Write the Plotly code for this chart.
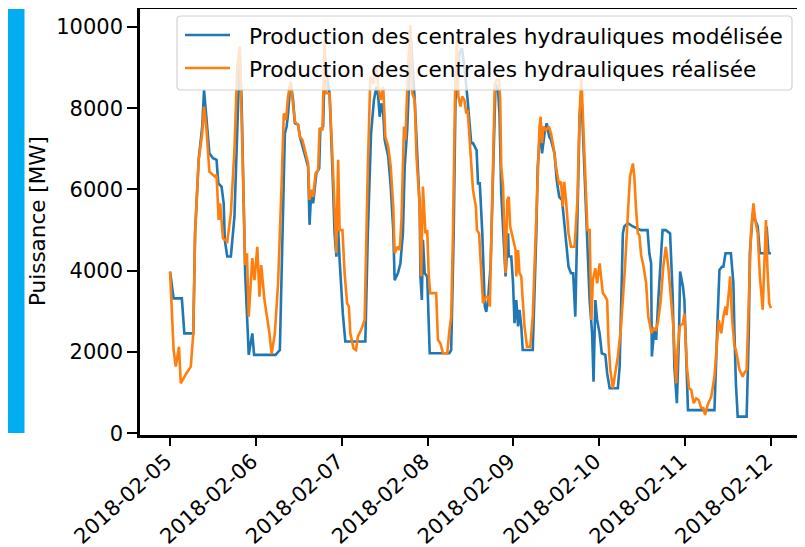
import pandas as pd
import plotly.graph_objects as go

# ---- data ----
start = "2018-02-05 00:00"

model_hours = [0, 1, 3.3, 4, 6.5, 7, 8, 9, 9.5, 10, 11, 12, 13, 13.5, 14.4, 15, 15.3, 16, 17, 18, 18.5, 19.5, 20, 21, 22, 23, 23.5,
               29.5, 30.7, 31.2, 32.1, 32.6, 33, 33.7, 34.4, 34.9, 35.8, 36.3, 36.7, 37.7, 38.6, 39, 39.5, 40, 40.9, 41.7, 42, 42.8,
               43.3, 44.2, 44.6, 45.4, 46, 46.5, 47, 47.4, 48.3, 49, 54.6, 55.3, 56.2, 57, 57.7, 58.2, 58.6, 59.1, 59.6, 60, 61,
               61.7, 62.4, 62.8, 63.7, 64.4, 65.1, 65.6, 66.3, 67, 67.4, 68.4, 69.3, 69.8, 70, 70.4, 70.7, 71.2, 71.9, 72.6, 78.1,
               78.6, 79.3, 79.8, 80.3, 80.9, 81.6, 82.3, 83.2, 84.2, 84.7, 85.7, 86.1, 86.6, 87.3, 88, 88.4, 88.9, 89.6, 90.3, 91,
               91.7, 92.1, 92.6, 93.1, 93.8, 94.5, 94.7, 95.4, 95.9, 96.3, 96.8, 97.3, 97.7, 98.2, 98.6, 101.4, 101.9, 102.4,
               102.8, 103.5, 104, 104.7, 105.3, 106, 106.5, 107.5, 108.1, 108.8, 109.6, 110, 110.7, 111.4, 112.1, 112.7, 113.3,
               113.9, 114.5, 115, 115.7, 116.4, 116.8, 117.3, 118, 118.4, 118.9, 119.4, 120.1, 120.7, 121.7, 122.2, 122.9, 125.2,
               125.7, 126.1, 126.6, 127, 128, 129.4, 131.7, 133.5, 134, 134.5, 134.7, 135.4, 135.9, 136.5, 137.1, 137.7, 138.6,
               139.8, 140.5, 141, 141.7, 142.3, 142.6, 143.4, 143.8, 144.3, 144.8, 152.2, 152.7, 153.1, 153.6, 154.3, 154.7,
               155.3, 156.8, 157.5, 157.8, 158.2, 158.7, 161.2, 161.8, 162.1, 162.9, 163.6, 164.3, 164.9, 166.4, 166.8, 167.3, 168]
model_values = [3980, 3320, 3320, 2460, 2460, 4920, 6730, 7550, 8450, 7960, 6890, 6770, 6730, 6150, 6070, 5660, 4760, 4350, 4350,
                5330, 6730, 9350, 8200, 3940, 1930, 2460, 1930,
                1930, 2050, 4100, 7380, 7550, 7870, 8650, 8200, 7630, 7590, 7300, 7180, 6890, 6560, 5130, 5990, 5660, 6400, 6520,
                7460, 7550, 9270, 8570, 8370, 6480, 4920, 4350, 5000, 4270, 2950, 2260, 2260, 4920, 7380, 8200, 8530, 8290, 7790,
                8120, 7870, 7220, 6810, 6070, 5000, 3770, 3940, 4180, 4920, 6560, 7460, 9020, 9680, 8200, 6560, 5580, 3860, 3280,
                4760, 3940, 3860, 1970, 1970, 2050, 4920, 8200, 8780, 9350, 9470, 9020, 8200, 7140, 7140, 6970, 6150, 6150, 4920,
                3120, 2990, 3280, 4100, 6560, 8610, 8450, 7870, 5910, 4920, 3860, 4920, 4350, 4350, 3690, 2710, 3280, 2630, 3040,
                2630, 2050, 2050, 3280, 4920, 6560, 7550, 6890, 7380, 7630, 7300, 7220, 6890, 6230, 5820, 5740, 5330, 4760, 4100,
                3940, 3940, 2870, 5740, 7790, 8370, 6730, 5090, 4350, 3280, 2460, 1270, 3280, 2790, 2460, 1970, 1930, 1480, 1110,
                1110, 1640, 3280, 4920, 5090, 5170, 5090, 5000, 5000, 4430, 4180, 1890, 2580, 2300, 3280, 4100, 5000, 5000, 4920,
                3450, 1640, 740, 2460, 3980, 3610, 3280, 1640, 570, 570, 1640, 2870, 4020, 4100, 4100, 4430, 4430, 3690, 2460, 1230,
                410, 410, 2460, 4430, 5410, 5250, 5090, 4430, 4430, 5090, 4430, 4430]

real_hours = [0, 1, 1.6, 2.5, 3, 3.7, 4.6, 5.8, 6.5, 7, 8, 9, 9.5, 10.2, 11, 12.5, 13, 13.6, 14, 14.8, 16, 17, 18, 18.8, 19.5, 20,
              21, 21.5, 22, 23, 23.6, 24.4, 25, 25.5, 26.4, 27.8, 28.4, 29.3, 30.2, 31.2, 31.8, 32.4, 33, 33.7, 34.4, 34.9, 35.8,
              36.3, 37, 37.7, 38.6, 39, 39.5, 40, 40.7, 41.4, 41.8, 42.6, 43.2, 43.7, 44.6, 45.6, 46, 46.5, 47, 47.4, 48.2, 48.8,
              49.5, 50, 50.4, 51.3, 52, 52.5, 53.4, 54.4, 55.3, 56, 56.8, 57.7, 58.2, 58.9, 59.6, 60.2, 61, 61.7, 62.4, 62.8, 63.6,
              64.2, 64.7, 65.4, 65.8, 66.5, 67.2, 67.7, 68.4, 68.9, 69.8, 70.2, 70.7, 71.4, 71.9, 72.3, 72.7, 74.4, 74.9, 75.6,
              76.3, 77.5, 78.1, 78.6, 79.1, 79.7, 80.2, 80.6, 81.2, 81.7, 82.3, 82.8, 83.2, 83.7, 84.3, 84.7, 85.5, 85.8, 86.4, 87,
              87.5, 88.3, 88.9, 89.4, 90.1, 90.8, 91.4, 92, 92.3, 92.6, 93.1, 93.8, 94.3, 94.7, 95.1, 95.9, 96.6, 96.8, 97.3,
              97.7, 98.2, 98.6, 99.1, 99.8, 100.7, 101.4, 102.4, 102.8, 103.3, 103.6, 104, 104.4, 105.1, 105.9, 106.5, 107.2,
              107.9, 108.7, 109.3, 109.8, 110.2, 110.7, 111.4, 112.1, 113.1, 113.9, 114.5, 115, 115.4, 116.1, 116.7, 117.3,
              117.8, 118.2, 118.9, 119.4, 120.1, 120.6, 121, 121.7, 122.2, 122.6, 123.1, 123.8, 124.3, 125.2, 126.1, 126.6,
              127.2, 128, 128.6, 129.4, 129.8, 130.3, 130.8, 131.2, 131.7, 132.4, 133.1, 133.7, 134.2, 134.6, 135.2, 135.9,
              136.5, 137.2, 137.9, 138.6, 139.3, 140, 140.7, 141.5, 141.9, 142.5, 143.4, 143.8, 144.5, 145.1, 145.7, 146.4,
              147.1, 147.8, 148.5, 149.1, 149.6, 150.3, 151.3, 152.2, 152.7, 153.4, 154.1, 154.7, 155.3, 155.6, 156.2, 156.6,
              157.1, 157.8, 158.2, 159.2, 160.1, 160.5, 161.2, 162, 162.4, 163.1, 163.6, 164.3, 164.9, 165.7, 166.1, 166.6, 167,
              167.5, 168]
real_values = [3980, 2050, 1640, 2130, 1230, 1350, 1480, 1640, 2460, 4920, 6730, 7380, 8040, 7460, 6440, 6320, 6360, 5250, 5660,
               4800, 4720, 5410, 6970, 9020, 9520, 7790, 4140, 4430, 2870, 4310, 3770, 4590, 3360, 4140, 3280, 2460, 1950, 2460,
               3690, 6150, 7870, 7710, 8290, 8650, 8040, 7670, 7590, 7300, 7220, 6970, 6640, 5740, 5990, 5820, 6400, 6480, 7510,
               7460, 9680, 8370, 8370, 6400, 5410, 4430, 6730, 5000, 5000, 3940, 3200, 3120, 2460, 2090, 2050, 2380, 2540, 2790,
               6560, 8780, 8610, 9020, 8530, 8200, 8530, 7300, 7050, 6560, 5580, 4430, 4590, 4510, 5250, 7550, 7220, 8940, 10050,
               8370, 8200, 6810, 5580, 3860, 6070, 4920, 5000, 3940, 3450, 3450, 2300, 2210, 1970, 1970, 2540, 2870, 4920, 8450,
               9680, 8290, 8040, 8290, 8200, 7870, 7960, 7380, 6560, 5990, 5580, 5000, 4920, 3940, 3200, 3360, 3360, 3120, 6150,
               8610, 8700, 8700, 8200, 6560, 6070, 3940, 5740, 5820, 5090, 4760, 4510, 3860, 4510, 3940, 3860, 3280, 2630, 2130,
               2130, 2870, 5330, 6730, 7550, 7790, 7140, 7550, 7460, 7550, 7380, 7050, 6560, 6150, 6190, 5580, 6190, 5740, 4920,
               4590, 4590, 5740, 7870, 8740, 7790, 6560, 5000, 5000, 2790, 3770, 4060, 3690, 4180, 3770, 3450, 3360, 3280, 2210,
               1560, 1110, 1390, 1890, 2630, 3280, 4100, 5410, 6320, 6640, 6320, 5500, 4920, 4880, 4390, 4100, 3690, 2870, 2630,
               2460, 2580, 2540, 2790, 3280, 4100, 4590, 4100, 3280, 2630, 1230, 2050, 2630, 2710, 2950, 1640, 1110, 1070, 740,
               860, 820, 620, 620, 450, 700, 900, 1390, 2050, 2790, 2460, 2870, 3120, 2910, 3450, 3860, 2870, 2130, 2050, 1560,
               1390, 1480, 1560, 3690, 4920, 5660, 5250, 4920, 3860, 3040, 4100, 5250, 4100, 3200, 3080]

tick_dates = ["2018-02-05", "2018-02-06", "2018-02-07", "2018-02-08", "2018-02-09", "2018-02-10", "2018-02-11", "2018-02-12"]
y_ticks = [0, 2000, 4000, 6000, 8000, 10000]

name_model = "Production des centrales hydrauliques modélisée"
name_real = "Production des centrales hydrauliques réalisée"
y_title = "Puissance [MW]"

t0 = pd.Timestamp(start)
x_model = [t0 + pd.Timedelta(hours=h) for h in model_hours]
x_real = [t0 + pd.Timedelta(hours=h) for h in real_hours]

FONT = "DejaVu Sans"
BLUE, ORANGE = "#1f77b4", "#ff7f0e"

# The page body has an 8px margin, so the figure is sized to fit inside the 805x547 window.
OFF = 8
W, H = 805 - OFF, 547 - OFF
# plot area in page pixels: x 140..801, y 9..435
PX0, PX1, PY0, PY1 = 140, 801, 9, 435
L, R, T, B = PX0 - OFF, 805 - PX1, PY0 - OFF, 547 - PY1
pw, ph = PX1 - PX0, PY1 - PY0


def px(x):
    return (x - PX0) / pw


def py(y):
    return (PY1 - y) / ph


fig = go.Figure()
fig.add_trace(go.Scatter(x=x_model, y=model_values, mode="lines", name=name_model,
                         line=dict(color=BLUE, width=2.6)))
fig.add_trace(go.Scatter(x=x_real, y=real_values, mode="lines", name=name_real,
                         line=dict(color=ORANGE, width=2.6)))

# side accent bar
fig.add_shape(type="rect", xref="paper", yref="paper",
              x0=px(OFF), x1=px(OFF + 16.5), y0=py(433), y1=py(9),
              fillcolor="#00AEEF", line=dict(width=0), layer="below")

# legend box (matplotlib style, rounded, translucent)
bx0, bx1, by0, by1, r = 177, 792, 16, 90, 4
path = (f"M {px(bx0 + r)},{py(by0)} L {px(bx1 - r)},{py(by0)} Q {px(bx1)},{py(by0)} {px(bx1)},{py(by0 + r)} "
        f"L {px(bx1)},{py(by1 - r)} Q {px(bx1)},{py(by1)} {px(bx1 - r)},{py(by1)} "
        f"L {px(bx0 + r)},{py(by1)} Q {px(bx0)},{py(by1)} {px(bx0)},{py(by1 - r)} "
        f"L {px(bx0)},{py(by0 + r)} Q {px(bx0)},{py(by0)} {px(bx0 + r)},{py(by0)} Z")
fig.add_shape(type="path", xref="paper", yref="paper", path=path,
              fillcolor="rgba(255,255,255,0.8)", line=dict(color="rgba(204,204,204,0.9)", width=1.2),
              layer="above")
for yy, col, txt in [(35, BLUE, name_model), (68, ORANGE, name_real)]:
    fig.add_shape(type="line", xref="paper", yref="paper",
                  x0=px(185), x1=px(230), y0=py(yy), y1=py(yy),
                  line=dict(color=col, width=2.6), layer="above")
    fig.add_annotation(xref="paper", yref="paper", x=px(247), y=py(yy + 1),
                       xanchor="left", yanchor="middle", showarrow=False, text=txt,
                       font=dict(family=FONT, size=21.7, color="black"))

# y-axis title
fig.add_annotation(xref="paper", yref="paper", x=px(38), y=py(221), xanchor="center", yanchor="middle",
                   showarrow=False, text=y_title, textangle=-90,
                   font=dict(family=FONT, size=21.5, color="black"))

fig.update_layout(
    width=W, height=H,
    margin=dict(l=L, r=R, t=T, b=B, pad=0),
    paper_bgcolor="white", plot_bgcolor="white",
    font=dict(family=FONT, size=21, color="black"),
    showlegend=False,
)

fig.update_xaxes(
    type="date", automargin=False,
    range=[t0 - pd.Timedelta(hours=8.4), t0 + pd.Timedelta(hours=176.4)],
    tickmode="array", tickvals=tick_dates, ticktext=tick_dates,
    tickangle=-42, ticks="outside", ticklen=8, tickwidth=2, tickcolor="black",
    ticklabelstandoff=-5, ticklabelshift=-4,
    showline=True, linewidth=2.5, linecolor="black", mirror=True,
    showgrid=False, zeroline=False,
    tickfont=dict(family=FONT, size=21, color="black"),
)
fig.update_yaxes(
    automargin=False,
    range=[-42, 10442],
    tickmode="array", tickvals=y_ticks, ticktext=[str(v) for v in y_ticks],
    ticks="outside", ticklen=10, tickwidth=2, tickcolor="black",
    showline=True, linewidth=2.5, linecolor="black", mirror=True,
    showgrid=False, zeroline=False,
    tickfont=dict(family=FONT, size=21, color="black"),
)

fig.write_html("out.html")
